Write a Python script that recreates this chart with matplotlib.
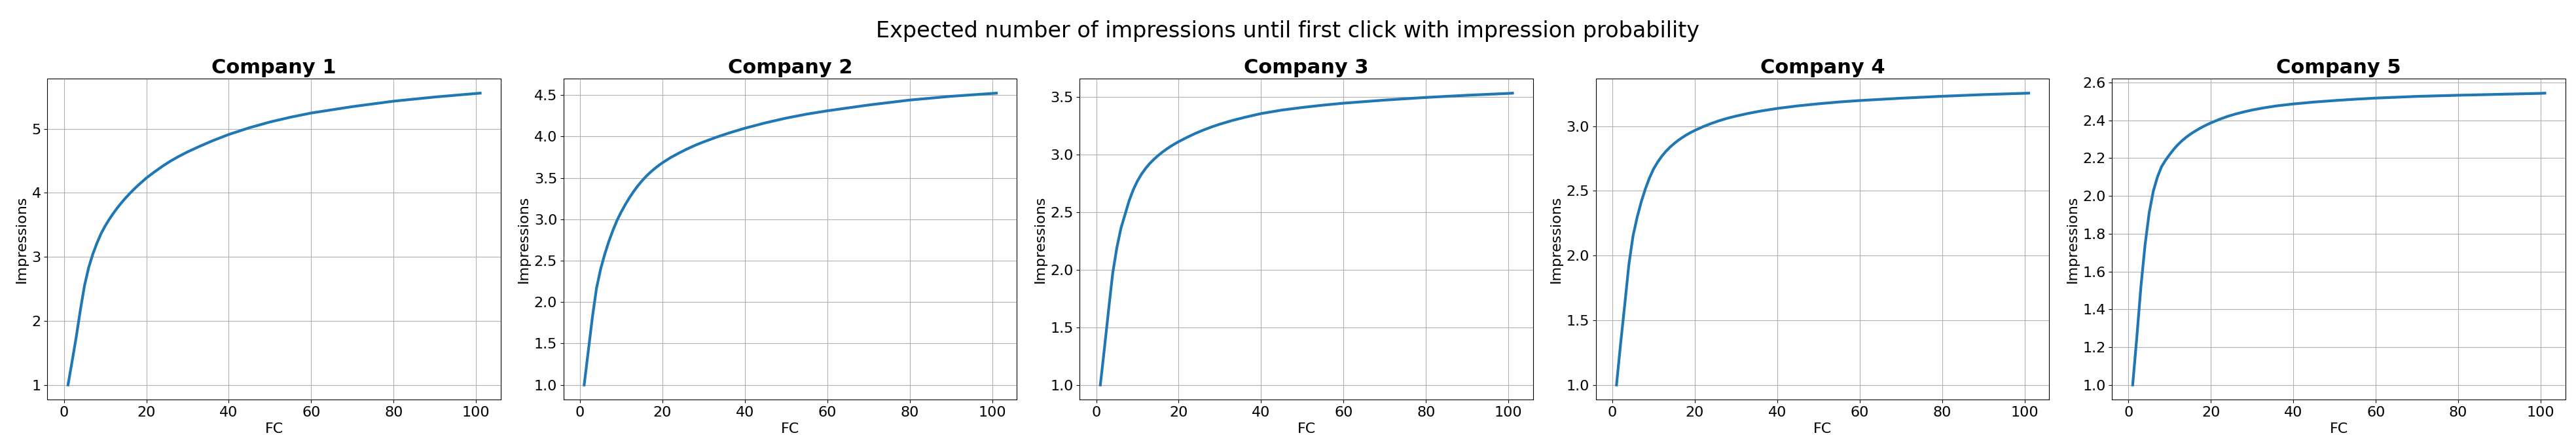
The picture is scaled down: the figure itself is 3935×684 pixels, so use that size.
import matplotlib
matplotlib.use("Agg")
import matplotlib.pyplot as plt

fc = [1, 2, 3, 4, 5, 6, 7, 8, 9, 10, 11, 12, 13, 14, 15, 16, 17, 18, 19, 20,
      22, 24, 26, 28, 30, 33, 36, 40, 45, 50, 55, 60, 70, 80, 90, 100, 101]

company_1 = [1.0, 1.37, 1.75, 2.17, 2.55, 2.83, 3.04, 3.21, 3.36, 3.48, 3.585, 3.68, 3.767, 3.847, 3.921,
             3.99, 4.055, 4.116, 4.173, 4.23, 4.327, 4.418, 4.50, 4.572, 4.638, 4.727, 4.81, 4.91, 5.015,
             5.105, 5.18, 5.245, 5.345, 5.43, 5.495, 5.55, 5.555]
company_2 = [1.0, 1.41, 1.82, 2.17, 2.40, 2.58, 2.735, 2.87, 2.99, 3.09, 3.18, 3.262, 3.336, 3.403, 3.463,
             3.517, 3.565, 3.608, 3.647, 3.683, 3.746, 3.80, 3.85, 3.895, 3.935, 3.99, 4.04, 4.10, 4.165,
             4.222, 4.27, 4.31, 4.38, 4.44, 4.485, 4.52, 4.523]
company_3 = [1.0, 1.32, 1.65, 1.97, 2.19, 2.36, 2.48, 2.60, 2.695, 2.77, 2.83, 2.88, 2.922, 2.958, 2.99,
             3.019, 3.045, 3.069, 3.091, 3.111, 3.148, 3.182, 3.212, 3.239, 3.263, 3.295, 3.322, 3.355, 3.385,
             3.408, 3.428, 3.445, 3.472, 3.495, 3.514, 3.53, 3.532]
company_4 = [1.0, 1.32, 1.62, 1.93, 2.15, 2.295, 2.415, 2.515, 2.60, 2.67, 2.723, 2.768, 2.806, 2.838, 2.866,
             2.891, 2.913, 2.933, 2.951, 2.967, 2.996, 3.021, 3.043, 3.062, 3.078, 3.099, 3.117, 3.137, 3.157,
             3.173, 3.187, 3.198, 3.216, 3.231, 3.244, 3.254, 3.255]
company_5 = [1.0, 1.25, 1.52, 1.74, 1.91, 2.025, 2.10, 2.155, 2.19, 2.22, 2.248, 2.272, 2.293, 2.311, 2.327,
             2.341, 2.354, 2.366, 2.377, 2.387, 2.405, 2.421, 2.434, 2.445, 2.455, 2.467, 2.477, 2.487, 2.497,
             2.505, 2.512, 2.518, 2.527, 2.533, 2.538, 2.543, 2.544]

names = ["Company 1", "Company 2", "Company 3", "Company 4", "Company 5"]
series = [company_1, company_2, company_3, company_4, company_5]

fig, axes = plt.subplots(1, 5, figsize=(39.35, 6.84), dpi=100)
fig.subplots_adjust(left=0.0184, right=0.9959, top=0.8246, bottom=0.1082, wspace=0.1385)

for ax, name, vals in zip(axes, names, series):
    ax.plot(fc, vals, color="#1f77b4", linewidth=3)
    ax.set_title(name, fontsize=22, fontweight="bold")
    ax.set_xlabel("FC", fontsize=16)
    ax.set_ylabel("Impressions", fontsize=16)
    ax.tick_params(labelsize=16)
    ax.grid(True)

fig.suptitle("Expected number of impressions until first click with impression probability",
             fontsize=24, y=0.9167, va="baseline")

fig.savefig("out.png", dpi=100)
